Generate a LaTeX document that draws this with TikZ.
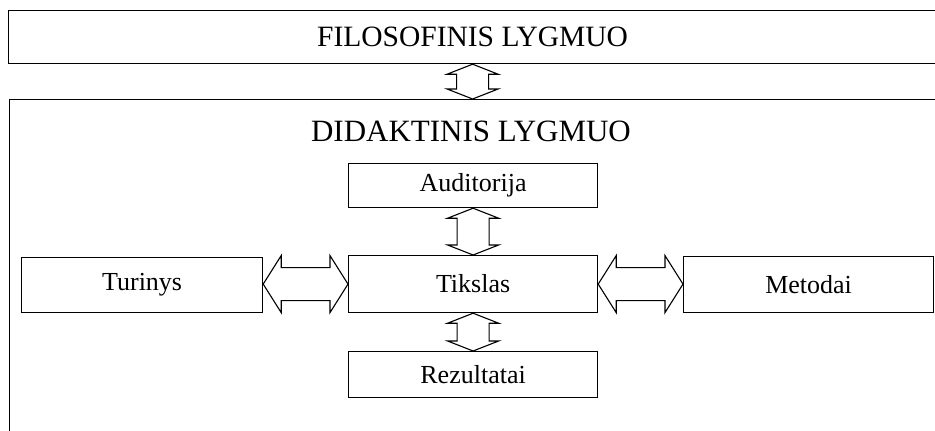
\documentclass[tikz,border=0pt]{standalone}
\usepackage{fontspec}
\setmainfont{Liberation Serif}
\usetikzlibrary{calc}
\begin{document}
\begin{tikzpicture}[x=1pt,y=-1pt,
  box/.style={draw,line width=1.2pt,rectangle,inner sep=0pt,font=\fontsize{26}{30}\selectfont},
  big/.style={font=\fontsize{29.5}{34}\selectfont},
  darr/.style={draw,line width=1.1pt,fill=white,line join=miter}]
\useasboundingbox (0,0) rectangle (935,431);
\clip (0,0) rectangle (935,431);
\node[box,big,minimum width=928pt,minimum height=53pt,anchor=north west] (filo) at (8,10) {FILOSOFINIS LYGMUO};
\node[draw,line width=1.2pt,minimum width=927pt,minimum height=360pt,anchor=north west,inner sep=0pt] (frame) at (9,99) {};
\node[font=\fontsize{31}{36}\selectfont,inner sep=0pt] (didlbl) at (471,131) {DIDAKTINIS LYGMUO};
\node[box,minimum width=249pt,minimum height=44pt,anchor=north west] (aud) at (348,163) {Auditorija};
\node[box,minimum width=249pt,minimum height=57pt,anchor=north west] (tik) at (348,255) {Tikslas};
\node[box,minimum width=249pt,minimum height=46pt,anchor=north west] (rez) at (348,351) {Rezultatai};
\node[box,minimum width=241pt,minimum height=55pt,anchor=north west] (tur) at (21,257) {Turinys};
\node[box,minimum width=250pt,minimum height=56pt,anchor=north west] (met) at (683,256) {Metodai};
% vertical double arrows: #1 top point, #2 bottom point
\newcommand\myvarrow[2]{%
  \path[darr] let \p1=(#1), \p2=(#2) in
    (\p1) -- (\x1+25.5pt,\y1-10pt) -- (\x1+16pt,\y1-10pt) -- (\x1+16pt,\y2+10pt)
    -- (\x1+25.5pt,\y2+10pt) -- (\x1,\y2) -- (\x1-25.5pt,\y2+10pt) -- (\x1-16pt,\y2+10pt)
    -- (\x1-16pt,\y1-10pt) -- (\x1-25.5pt,\y1-10pt) -- cycle;}
% horizontal double arrows: #1 left point, #2 right point
\newcommand\myharrow[2]{%
  \path[darr] let \p1=(#1), \p2=(#2) in
    (\p1) -- (\x1+18pt,\y1+28.5pt) -- (\x1+18pt,\y1+16.5pt) -- (\x2-18pt,\y1+16.5pt)
    -- (\x2-18pt,\y1+28.5pt) -- (\x2,\y1) -- (\x2-18pt,\y1-28.5pt) -- (\x2-18pt,\y1-16.5pt)
    -- (\x1+18pt,\y1-16.5pt) -- (\x1+18pt,\y1-28.5pt) -- cycle;}
\myvarrow{filo.south}{filo.south |- frame.north}
\myvarrow{aud.south}{tik.north}
\myvarrow{tik.south}{rez.north}
\myharrow{tur.east |- tik.west}{tik.west}
\myharrow{tik.east}{met.west |- tik.east}
\end{tikzpicture}
\end{document}
